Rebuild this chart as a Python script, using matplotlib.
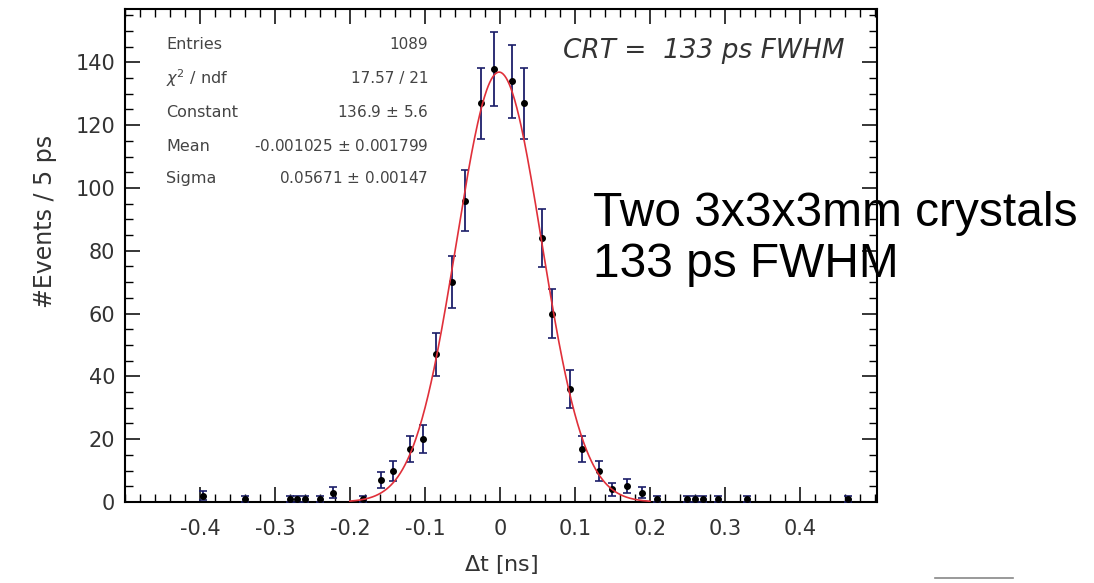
import numpy as np
import matplotlib
matplotlib.use('Agg')
import matplotlib.pyplot as plt
from matplotlib.ticker import MultipleLocator

# histogram points (bin centre in ns, counts)
dt_ns = [-0.396, -0.34, -0.28, -0.27, -0.26, -0.24, -0.222, -0.183,
         -0.158, -0.143, -0.12, -0.103, -0.085, -0.064, -0.047, -0.025,
         -0.008, 0.016, 0.032, 0.056, 0.070, 0.094, 0.110, 0.132, 0.149,
         0.170, 0.189, 0.21, 0.249, 0.26, 0.271, 0.291, 0.329, 0.464]
counts = [2, 1, 1, 1, 1, 1, 3, 1,
          7, 10, 17, 20, 47, 70, 96, 127,
          138, 134, 127, 84, 60, 36, 17, 10, 4,
          5, 3, 1, 1, 1, 1, 1, 1, 1]

# gaussian fit parameters as printed in the stats box
fit_constant = 136.9
fit_mean = -0.001025
fit_sigma = 0.05671
fit_range = (-0.2, 0.2)

stat_names = ['Entries', '$\\chi^2$ / ndf', 'Constant', 'Mean', 'Sigma']
stat_values = ['1089', '17.57 / 21', '136.9 $\\pm$ 5.6',
               '-0.001025 $\\pm$ 0.001799', '0.05671 $\\pm$ 0.00147']

x_ticks = [-0.4, -0.3, -0.2, -0.1, 0, 0.1, 0.2, 0.3, 0.4]
x_tick_labels = ['-0.4', '-0.3', '-0.2', '-0.1', '0', '0.1', '0.2', '0.3', '0.4']
y_ticks = [0, 20, 40, 60, 80, 100, 120, 140]

plt.rcParams['font.family'] = ['DejaVu Sans']
plt.rcParams['mathtext.fontset'] = 'dejavusans'

fig = plt.figure(figsize=(10.94, 5.83), dpi=100)
ax = fig.add_axes([125 / 1094, 81 / 583, 752 / 1094, 493 / 583])

errors = np.sqrt(counts)
ax.errorbar(dt_ns, counts, yerr=errors, fmt='o', color='black',
            ecolor='#1c1f6a', elinewidth=1.3, capsize=3, capthick=1.2,
            markersize=4, zorder=3)

xf = np.linspace(fit_range[0], fit_range[1], 400)
yf = fit_constant * np.exp(-0.5 * ((xf - fit_mean) / fit_sigma) ** 2)
ax.plot(xf, yf, color='#e0303a', lw=1.2, zorder=4)

ax.set_xlim(-0.5, 0.503)
ax.set_ylim(0, 157)
ax.set_xticks(x_ticks)
ax.set_xticklabels(x_tick_labels)
ax.set_yticks(y_ticks)
ax.xaxis.set_minor_locator(MultipleLocator(0.02))
ax.yaxis.set_minor_locator(MultipleLocator(5))
ax.tick_params(which='both', direction='in', top=True, right=True,
               colors='black', labelcolor='#333333', labelsize=15)
ax.tick_params(which='major', length=11, width=1.1)
ax.tick_params(which='minor', length=6, width=1.0)
ax.tick_params(axis='x', pad=12)
ax.tick_params(axis='y', pad=7)
for spine in ax.spines.values():
    spine.set_linewidth(1.5)

ax.set_xlabel('$\\Delta$t [ns]', fontsize=16, color='#333333', labelpad=10)
ax.set_ylabel('#Events / 5 ps', fontsize=17, color='#333333')
ax.yaxis.set_label_coords(-0.09, 0.57)

# stats box (no frame, as in the picture)
row_y = [0.927, 0.860, 0.791, 0.722, 0.657]
for name, value, y in zip(stat_names, stat_values, row_y):
    ax.text(0.0545, y, name, transform=ax.transAxes, fontsize=11.5,
            color='#444444', va='center', ha='left')
    ax.text(0.403, y, value, transform=ax.transAxes, fontsize=11,
            color='#444444', va='center', ha='right')

ax.text(0.957, 0.915, 'CRT =  133 ps FWHM', transform=ax.transAxes,
        fontsize=19, style='italic', color='#333333', ha='right', va='center')

fig.text(593 / 1094, 1 - 239 / 583, 'Two 3x3x3mm crystals\n133 ps FWHM',
         fontsize=34.5, family='Liberation Sans', color='black',
         ha='left', va='center', linespacing=1.15)

fig.add_artist(plt.Line2D([935 / 1094, 1013 / 1094], [5 / 583, 5 / 583],
                          color='#888888', lw=1.2))

fig.savefig('out.png', dpi=100)
